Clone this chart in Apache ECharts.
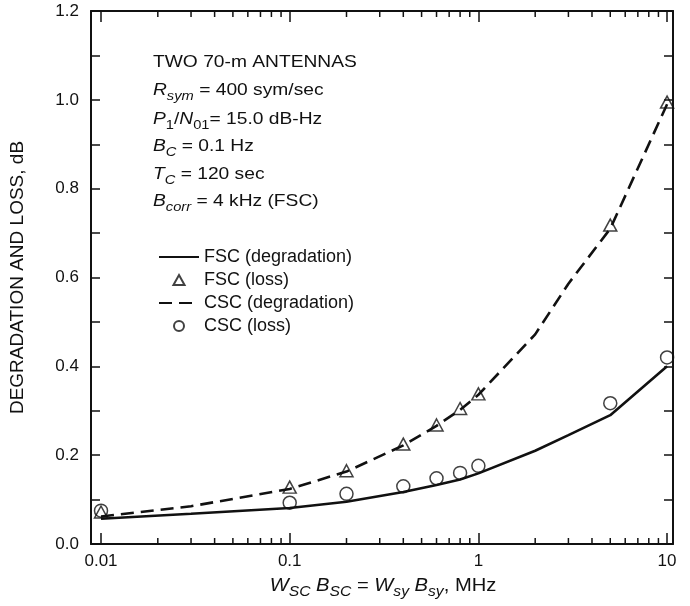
<!DOCTYPE html>
<html>
<head>
<meta charset="utf-8">
<title>Degradation and loss</title>
<script src="https://cdn.jsdelivr.net/npm/echarts@6/dist/echarts.min.js"></script>
<style>
  html, body { margin: 0; padding: 0; background: #fff; }
  #chart { width: 690px; height: 606px; }
</style>
</head>
<body>
<div id="chart"></div>
<script>
// bandwidth values, MHz
const lineX = [0.01, 0.03, 0.1, 0.2, 0.4, 0.6, 0.8, 1, 2, 3, 5, 10];
const fscDegradation = [0.057, 0.068, 0.081, 0.095, 0.117, 0.133, 0.145, 0.159, 0.21, 0.245, 0.29, 0.4];
const cscDegradation = [0.062, 0.085, 0.124, 0.163, 0.222, 0.266, 0.302, 0.336, 0.472, 0.586, 0.71, 0.99];

const pointX = [0.01, 0.1, 0.2, 0.4, 0.6, 0.8, 1, 5, 10];
const fscLoss = [0.072, 0.128, 0.165, 0.225, 0.268, 0.305, 0.338, 0.718, 0.995];
const cscLoss = [0.075, 0.093, 0.113, 0.13, 0.148, 0.16, 0.176, 0.317, 0.42];

const xMajorTicks = [0.01, 0.1, 1, 10];
const xMinorTicks = [0.02, 0.03, 0.04, 0.05, 0.06, 0.07, 0.08, 0.09,
  0.2, 0.3, 0.4, 0.5, 0.6, 0.7, 0.8, 0.9, 2, 3, 4, 5, 6, 7, 8, 9];

const X_MIN = 0.00885;
const X_MAX = 10.75;
const Y_MAX = 1.2;
const FONT = "'Liberation Sans', Arial, sans-serif";
const INK = '#111';

const pairs = (xs, ys) => xs.map((x, i) => [x, ys[i]]);
const isMajor = (v) => xMajorTicks.some((t) => Math.abs(Math.log10(v / t)) < 1e-6);

// log axis: decade ticks come from the scale itself
const logAxis = (position, labels) => ({
  type: 'log',
  position: position,
  min: X_MIN,
  max: X_MAX,
  axisLine: { show: true, onZero: false, lineStyle: { color: INK, width: 2 } },
  axisTick: { show: true, inside: true, length: 11, lineStyle: { color: INK, width: 1.5 } },
  axisLabel: {
    show: true, margin: 9, fontSize: 17, fontFamily: FONT, color: INK,
    showMinLabel: false, showMaxLabel: false,
    formatter: (v) => (labels && isMajor(v) ? String(+(+v).toPrecision(3)) : '')
  },
  splitLine: { show: false }
});

const valAxis = (position, labels) => ({
  type: 'value',
  position: position,
  min: 0,
  max: Y_MAX,
  interval: 0.1,
  axisLine: { show: true, onZero: false, lineStyle: { color: INK, width: 2 } },
  axisTick: { show: true, inside: true, length: 9, lineStyle: { color: INK, width: 1.5 } },
  axisLabel: {
    show: labels,
    margin: 12,
    fontSize: 17,
    fontFamily: FONT,
    color: INK,
    formatter: (v) => (Math.round(v * 10) % 2 === 0 ? v.toFixed(1) : '')
  },
  splitLine: { show: false }
});

// inward minor log ticks on the bottom (y = 0) or top (y = Y_MAX) edge
const tickSeries = (name, ticks, edge, len) => ({
  name: name,
  type: 'custom',
  clip: false,
  data: ticks.map((v) => [v, edge]),
  encode: { x: 0, y: 1 },
  renderItem: (params, api) => {
    const p = api.coord([api.value(0), api.value(1)]);
    const dir = api.value(1) > 0 ? 1 : -1;
    return {
      type: 'line',
      shape: { x1: p[0], y1: p[1], x2: p[0], y2: p[1] + dir * len },
      style: { stroke: INK, lineWidth: 1.5 }
    };
  }
});

const plain = { fontFamily: FONT, fontSize: 17, lineHeight: 26 };
const ital = { fontFamily: FONT, fontSize: 17, lineHeight: 26, fontStyle: 'italic' };
const sub = { fontFamily: FONT, fontSize: 13, lineHeight: 13, fontStyle: 'italic', verticalAlign: 'bottom' };
const subUp = { fontFamily: FONT, fontSize: 13, lineHeight: 13, verticalAlign: 'bottom' };

const noteLines = [
  '{p|TWO 70-m ANTENNAS}',
  '{i|R}{s|sym}{p| = 400 sym/sec}',
  '{i|P}{u|1}{p|/}{i|N}{u|01}{p|= 15.0 dB-Hz}',
  '{i|B}{s|C}{p| = 0.1 Hz}',
  '{i|T}{s|C}{p| = 120 sec}',
  '{i|B}{s|corr}{p| = 4 kHz (FSC)}'
];
const noteY = [62, 90, 119, 146, 174, 201];

const chart = echarts.init(document.getElementById('chart'));
chart.setOption({
  animation: false,
  backgroundColor: '#fff',
  grid: { left: 89, right: 17, top: 11, bottom: 62 },
  xAxis: [logAxis('bottom', true), logAxis('top', false)],
  yAxis: [
    Object.assign(valAxis('left', true), {
      name: 'DEGRADATION AND LOSS, dB',
      nameLocation: 'middle',
      nameGap: 64,
      nameTextStyle: { fontSize: 19, fontFamily: FONT, color: INK }
    }),
    valAxis('right', false)
  ],
  legend: {
    orient: 'vertical',
    left: 153,
    top: 243,
    itemWidth: 40,
    itemHeight: 10,
    itemGap: 5,
    textStyle: { fontSize: 18, lineHeight: 18, fontFamily: FONT, color: INK },
    data: [
      { name: 'FSC (degradation)', itemStyle: { opacity: 0 } },
      { name: 'FSC (loss)', icon: 'path://M5,0L10,9L0,9Z' },
      { name: 'CSC (degradation)', itemStyle: { opacity: 0 } },
      { name: 'CSC (loss)', icon: 'circle' }
    ]
  },
  graphic: noteLines.map((t, i) => ({
    type: 'text',
    x: 153,
    y: noteY[i],
    scaleX: 1.13,
    style: {
      text: t,
      fill: INK,
      align: 'left',
      verticalAlign: 'middle',
      rich: { p: plain, i: ital, s: sub, u: subUp }
    }
  })).concat([{
    type: 'text',
    x: 383,
    y: 586,
    scaleX: 1.12,
    style: {
      text: '{i|W}{s|SC}{p| }{i|B}{s|SC}{p| = }{i|W}{s|sy}{p| }{i|B}{s|sy}{p|, MHz}',
      fill: INK,
      align: 'center',
      verticalAlign: 'middle',
      rich: {
        p: { fontFamily: FONT, fontSize: 18, lineHeight: 26 },
        i: { fontFamily: FONT, fontSize: 18, lineHeight: 26, fontStyle: 'italic' },
        s: { fontFamily: FONT, fontSize: 14, lineHeight: 14, fontStyle: 'italic', verticalAlign: 'bottom' }
      }
    }
  }]),
  series: [
    tickSeries('minor ticks bottom', xMinorTicks, 0, 6),
    tickSeries('minor ticks top', xMinorTicks, Y_MAX, 6),
    {
      name: 'FSC (degradation)',
      type: 'line',
      data: pairs(lineX, fscDegradation),
      symbol: 'none',
      lineStyle: { color: INK, width: 2.6 },
      itemStyle: { color: INK }
    },
    {
      name: 'FSC (loss)',
      type: 'scatter',
      data: pairs(pointX, fscLoss),
      symbol: 'triangle',
      symbolSize: [13, 12],
      itemStyle: { color: 'rgba(0,0,0,0)', borderColor: INK, borderWidth: 1.5 },
      z: 5
    },
    {
      name: 'CSC (degradation)',
      type: 'line',
      data: pairs(lineX, cscDegradation),
      symbol: 'none',
      lineStyle: { color: INK, width: 2.6, type: [13, 7] },
      itemStyle: { color: INK }
    },
    {
      name: 'CSC (loss)',
      type: 'scatter',
      data: pairs(pointX, cscLoss),
      symbol: 'circle',
      symbolSize: 13,
      itemStyle: { color: 'rgba(0,0,0,0)', borderColor: INK, borderWidth: 1.5 },
      z: 5
    }
  ]
});
window.addEventListener('resize', function () {
  chart.resize();
});
</script>
</body>
</html>
